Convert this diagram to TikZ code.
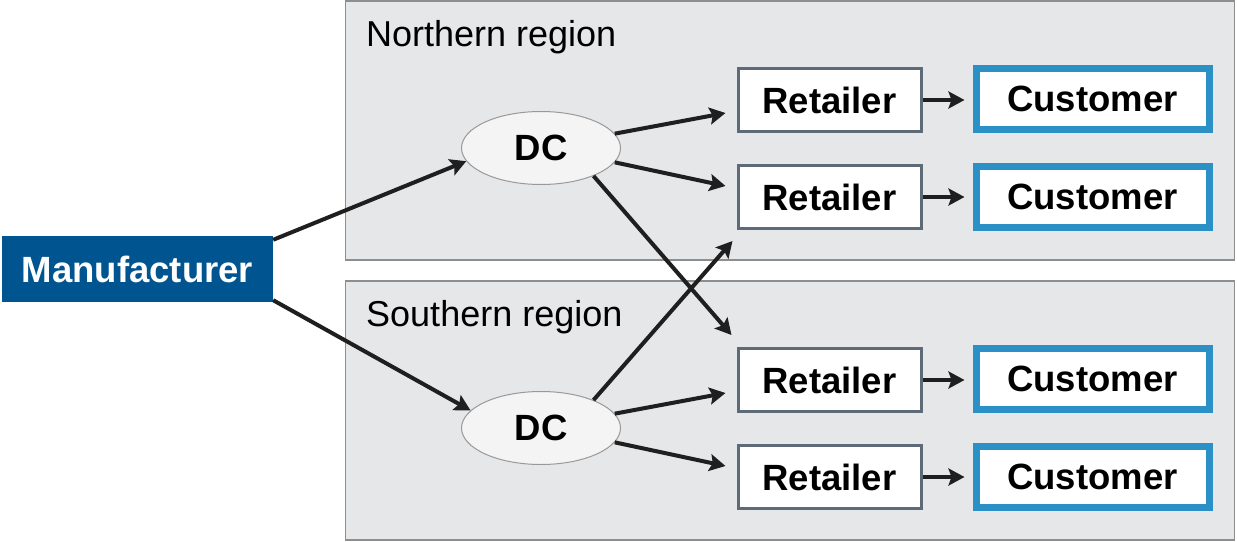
\documentclass[tikz,border=0pt]{standalone}
\usepackage{fontspec}
\setmainfont{Liberation Sans}
\usetikzlibrary{arrows.meta,shapes.geometric}
\definecolor{regfill}{HTML}{E6E7E9}
\definecolor{regline}{HTML}{8C8E90}
\definecolor{manblue}{HTML}{00548F}
\definecolor{custblue}{HTML}{2A90C6}
\definecolor{retline}{HTML}{5C6B77}
\definecolor{ellfill}{HTML}{F4F4F5}
\tikzset{
  x=1pt, y=-1pt,
  region/.style={draw=regline, line width=1.5pt, fill=regfill, rectangle, inner sep=0pt},
  reglabel/.style={anchor=west, inner sep=0pt, font=\fontsize{36}{40}\selectfont},
  bigtext/.style={font=\fontsize{36.5}{40}\selectfont\bfseries},
  manbox/.style={rectangle, fill=manblue, text=white, bigtext, minimum width=271pt, minimum height=66pt, inner sep=0pt},
  dcnode/.style={ellipse, draw=gray!80, line width=1pt, fill=ellfill, bigtext, minimum width=159pt, minimum height=73pt, inner sep=0pt},
  retbox/.style={rectangle, draw=retline, line width=3pt, fill=white, bigtext, minimum width=183pt, minimum height=63pt, inner sep=0pt},
  custbox/.style={rectangle, draw=custblue, line width=7pt, fill=white, bigtext, minimum width=233pt, minimum height=61pt, inner sep=0pt},
  arr/.style={line width=4pt, color=black!88, -{Stealth[length=16pt,width=17pt,inset=3pt]}},
}
\begin{document}
\begin{tikzpicture}
\useasboundingbox (0,0) rectangle (1237,541);
\fill[white] (0,0) rectangle (1237,541);
% regions
\node[region, minimum width=889pt, minimum height=259pt] (north) at (790,130.5) {};
\node[region, minimum width=889pt, minimum height=259pt] (south) at (790,410.5) {};
\node[reglabel] (nlab) at (366,37) {Northern region};
\node[reglabel] (slab) at (366,317) {Southern region};
% manufacturer
\node[manbox] (man) at (137.5,269) {Manufacturer};
% DCs
\node[dcnode] (dcn) at (541,148) {DC};
\node[dcnode] (dcs) at (541,428) {DC};
% retailers
\node[retbox] (rn1) at (829.5,100) {Retailer};
\node[retbox] (rn2) at (829.5,197) {Retailer};
\node[retbox] (rs1) at (829.5,380) {Retailer};
\node[retbox] (rs2) at (829.5,477) {Retailer};
% customers
\node[custbox] (cn1) at (1092.5,99) {Customer};
\node[custbox] (cn2) at (1092.5,197) {Customer};
\node[custbox] (cs1) at (1092.5,379) {Customer};
\node[custbox] (cs2) at (1092.5,477) {Customer};
% arrows
\draw[arr] ([yshift=-4pt]man.north east) -- (dcn.190);
\draw[arr] ([yshift=2pt]man.south east) -- (dcs.166);
\draw[arr] (dcn.11) -- ([xshift=-11pt,yshift=-13pt]rn1.west);
\draw[arr] (dcn.-11) -- ([xshift=-11pt,yshift=11pt]rn2.west);
\draw[arr] (dcn.-28) -- ([xshift=-5pt,yshift=12pt]rs1.north west);
\draw[arr] (dcs.28) -- ([xshift=-4pt,yshift=-11pt]rn2.south west);
\draw[arr] (dcs.11) -- ([xshift=-11pt,yshift=-13pt]rs1.west);
\draw[arr] (dcs.-11) -- ([xshift=-11pt,yshift=11pt]rs2.west);
\foreach \r/\c in {rn1/cn1,rn2/cn2,rs1/cs1,rs2/cs2}
  \draw[arr] (\r.east) -- ([xshift=-8pt]\r.east -| \c.west);
\end{tikzpicture}
\end{document}
